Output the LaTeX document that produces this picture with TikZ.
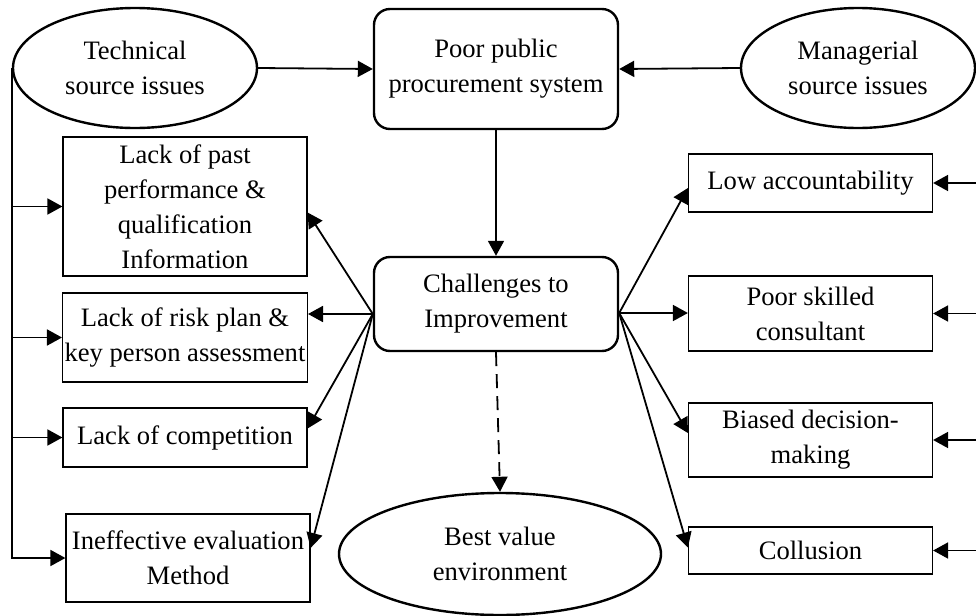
\documentclass[tikz,border=0pt]{standalone}
\usepackage{fontspec}
\setmainfont{Liberation Serif}
\usetikzlibrary{shapes.geometric,arrows.meta,calc}
\tikzset{>={Triangle[length=7.5pt,width=8pt]}}
\tikzset{
  issue/.style={ellipse, draw, line width=1.2pt, align=center, inner sep=0pt},
  core/.style={rectangle, rounded corners=8pt, draw, line width=1.2pt, align=center, minimum width=122pt},
  factor/.style={rectangle, draw, line width=0.6pt, align=center, minimum width=122pt, inner sep=1pt},
  link/.style={->, line width=0.9pt}
}

\begin{document}
\begin{tikzpicture}[x=0.5pt, y=-0.5pt, font=\fontsize{13.3}{17.5}\selectfont]
\useasboundingbox (0,0) rectangle (976,616);
% sources and the central chain
\node[issue, minimum width=122pt, minimum height=60pt] (tech) at (135,68) {Technical\\source issues};
\node[issue, minimum width=117pt, minimum height=60pt] (mgr) at (858,68) {Managerial\\source issues};
\node[core, minimum height=60pt] (poor) at (496,69) {Poor public\\procurement system};
\node[core, minimum height=47pt] (chal) at (496,304) {Challenges to\\Improvement};
\node[issue, minimum width=161pt, minimum height=61pt] (best) at (500,554) {Best value\\environment};
% technical factors
\node[factor, minimum height=69.5pt] (box1) at (185,206.5) {Lack of past\\performance \&\\qualification\\Information};
\node[factor, minimum height=44.5pt] (box2) at (185,337.5) {Lack of risk plan \&\\key person assessment};
\node[factor, minimum height=29.5pt] (box3) at (185,437.5) {Lack of competition};
\node[factor, minimum height=44pt] (box4) at (188,558) {Ineffective evaluation\\Method};
% managerial factors
\node[factor, minimum height=29pt] (low) at (810.5,183) {Low accountability};
\node[factor, minimum height=37.5pt] (skill) at (810.5,313.5) {Poor skilled\\consultant};
\node[factor, minimum height=37pt] (bias) at (810.5,440) {Biased decision-\\making};
\node[factor, minimum height=23.5pt] (coll) at (810.5,550.5) {Collusion};

\coordinate (cl) at ($(chal.west)+(0,10)$);
\coordinate (cr) at ($(chal.east)+(0,9)$);
\coordinate (edge) at (976,0);

\draw[link] (tech.east) -- (poor.west);
\draw[link] (mgr.west) -- (poor.east);
\draw[link] (poor.south) -- (chal.north);
\draw[link, dash pattern=on 7pt off 4pt] (chal.south) -- (best.north);

% trunk on the left
\draw[link] (tech.west) |- (box4.west);
\foreach \b in {box1,box2,box3}
  \draw[link] (tech.west |- \b.west) -- (\b.west);

\draw[link] (cl) -- ($(box1.east)+(0,6)$);
\draw[link] (cl) -- (box2.east |- cl);
\draw[link] (cl) -- ($(box3.east)+(0,-9)$);
\draw[link] (cl) -- ($(box4.east)+(0,-10)$);

\draw[link] (cr) -- ($(low.west)+(0,5)$);
\draw[link] (cr) -- (skill.west |- cr);
\draw[link] (cr) -- ($(bias.west)+(0,-7)$);
\draw[link] (cr) -- ($(coll.west)+(0,-3)$);

% stubs from the right edge
\foreach \b in {low,skill,bias,coll}
  \draw[link] (edge |- \b.east) -- (\b.east);
\end{tikzpicture}
\end{document}
